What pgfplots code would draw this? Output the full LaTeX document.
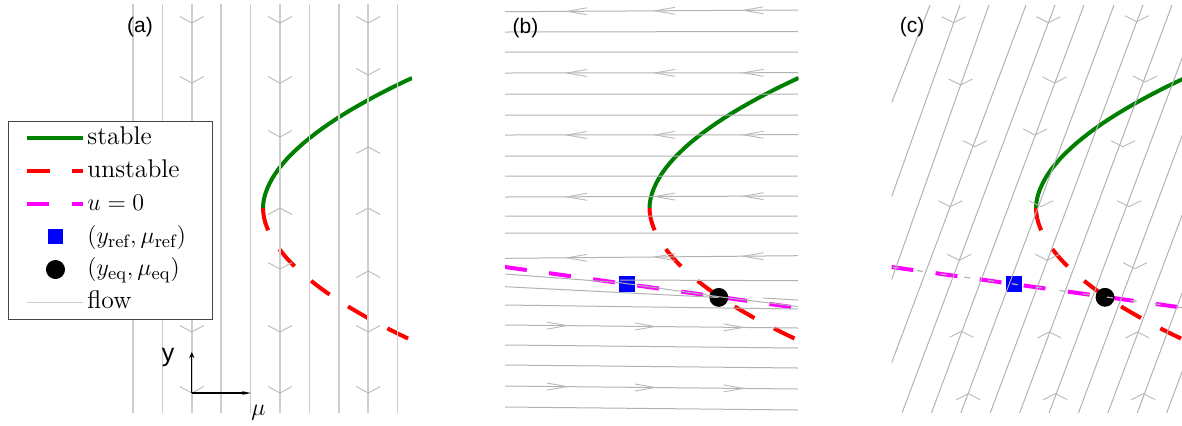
\documentclass[border=0pt]{standalone}
\usepackage{fontspec}
\setsansfont{Liberation Sans}
\usepackage{pgfplots}
\usepackage{pgfplotstable}
\pgfplotsset{compat=1.18}
\usetikzlibrary{arrows.meta}
\definecolor{stab}{RGB}{0,128,0}
\definecolor{unst}{RGB}{255,0,0}
\definecolor{uzero}{RGB}{255,0,255}
\definecolor{flowA}{RGB}{205,205,205}
\definecolor{flowB}{RGB}{178,178,178}
\definecolor{chev}{RGB}{185,185,185}
\definecolor{legframe}{RGB}{70,70,70}

% shared data, in panel coordinates (pixels of panel (a), y downwards)
\pgfplotstableread{
x y
263 208
263.3 203
264.2 198
265.6 193
267.5 188
269.8 183
272.5 178
275.7 173
279.3 168
283.4 163
287.8 158
292.7 153
298 148
303.6 143
309.7 138
316.1 133
322.9 128
330.1 123
337.7 118
345.7 113
354 108
362.8 103
371.8 98
381.3 93
391.1 88
401.3 83
412 78
}\stabletab
\pgfplotstableread{
x y
263 208
263.3 213
264.1 218
265.4 223
267.2 228
269.4 233
272 238
275 243
278.5 248
282.4 253
286.6 258
291.3 263
296.3 268
301.8 273
307.6 278
313.9 283
320.4 288
327.4 293
334.8 298
342.5 303
350.6 308
359.1 313
367.9 318
377.1 323
386.7 328
396.6 333
409 339
}\unstabletab

\tikzset{panellabel/.style={font=\fontsize{10.5}{12}\sffamily\selectfont}}
\pgfplotsset{
  panel/.style={
    scale only axis, width=146.75pt, height=205pt,
    xmin=118.5, xmax=412, ymin=4, ymax=414, y dir=reverse,
    hide axis, clip mode=individual, anchor=south west,
    unbounded coords=jump,
  },
  stablecurve/.style={color=stab, line width=2pt},
  unstablecurve/.style={color=unst, line width=2pt, dash pattern=on 11.5pt off 11pt},
  uzeroline/.style={color=uzero, line width=2pt, dash pattern=on 11pt off 11.25pt},
  flowa/.style={color=flowA, line width=0.8pt},
  flowb/.style={color=flowB, line width=0.5pt},
  chevron/.style={color=chev, line width=0.45pt},
  refmark/.style={only marks, mark=square*, mark size=3.75pt, color=blue},
  eqmark/.style={only marks, mark=*, mark size=4.5pt, color=black},
  lineleg/.style={legend image code/.code={\draw[##1] plot coordinates {(0pt,0pt) (28pt,0pt)};}},
  markleg/.style={legend image code/.code={\path[draw=none,fill=none] (0pt,0pt) -- (28pt,0pt); \draw[##1] plot coordinates {(14pt,0pt)};}},
}

\begin{document}
\begin{tikzpicture}
\useasboundingbox (0,0) rectangle (591pt,212.5pt);

% ---------------- panel (a)
\begin{axis}[panel, at={(59.25pt,5.5pt)},
  legend style={at={(axis cs:8,121)}, anchor=north west, draw=legframe,
    line width=0.5pt, fill=white, inner xsep=8.5pt, inner ysep=1pt,
    row sep=1.6pt, font=\fontsize{12.8}{15}\selectfont,
    nodes={inner sep=1pt, text height=9.6pt, text depth=3.2pt, text width=53pt}},
  legend cell align=left]
\addlegendimage{stablecurve, lineleg}
\addlegendentry{stable}
\addlegendimage{unstablecurve, lineleg}
\addlegendentry{unstable}
\addlegendimage{uzeroline, lineleg}
\addlegendentry{$u=0$}
\addlegendimage{only marks, mark=square*, mark size=3.6pt, color=blue, markleg}
\addlegendentry{$(y_{\mathrm{ref}},\mu_{\mathrm{ref}})$}
\addlegendimage{only marks, mark=*, mark size=4.5pt, color=black, markleg}
\addlegendentry{$(y_{\mathrm{eq}},\mu_{\mathrm{eq}})$}
\addlegendimage{color=flowA, line width=0.8pt, lineleg}
\addlegendentry{flow}

\addplot[stablecurve, forget plot] table {\stabletab};
\addplot[unstablecurve, forget plot] table {\unstabletab};
% flow lines
\addplot[flowa, forget plot] coordinates {
(133,4) (133,413) (nan,nan)
(162.4,4) (162.4,413) (nan,nan)
(191.8,4) (191.8,413) (nan,nan)
(221.2,4) (221.2,413) (nan,nan)
(250.6,4) (250.6,413) (nan,nan)
(280,4) (280,413) (nan,nan)
(309.4,4) (309.4,413) (nan,nan)
(338.8,4) (338.8,413) (nan,nan)
(368.2,4) (368.2,413) (nan,nan)
(397.6,4) (397.6,413)
};
\addplot[chevron, forget plot] coordinates {
(179.8,16.5) (191.8,23) (203.8,16.5) (nan,nan)
(179.8,76.5) (191.8,83) (203.8,76.5) (nan,nan)
(179.8,325.5) (191.8,332) (203.8,325.5) (nan,nan)
(179.8,386.5) (191.8,393) (203.8,386.5) (nan,nan)
(268,16.5) (280,23) (292,16.5) (nan,nan)
(268,76.5) (280,83) (292,76.5) (nan,nan)
(268,130.5) (280,137) (292,130.5) (nan,nan)
(268,214.5) (280,208) (292,214.5) (nan,nan)
(268,262.5) (280,269) (292,262.5) (nan,nan)
(268,325.5) (280,332) (292,325.5) (nan,nan)
(268,386.5) (280,393) (292,386.5) (nan,nan)
(356.2,16.5) (368.2,23) (380.2,16.5) (nan,nan)
(356.2,68.5) (368.2,75) (380.2,68.5) (nan,nan)
(356.2,153.5) (368.2,147) (380.2,153.5) (nan,nan)
(356.2,214.5) (368.2,208) (380.2,214.5) (nan,nan)
(356.2,277.5) (368.2,271) (380.2,277.5) (nan,nan)
(356.2,325.5) (368.2,332) (380.2,325.5) (nan,nan)
(356.2,386.5) (368.2,393) (380.2,386.5)
};
\draw[black, line width=0.6pt, -{Stealth[length=3pt,width=2.6pt]}] (axis cs:191.8,393) -- (axis cs:191.8,352);
\draw[black, line width=0.6pt, -{Stealth[length=4.5pt,width=1.8pt]}] (axis cs:191.8,393) -- (axis cs:251,393);
\node[font=\fontsize{12.5}{14}\sffamily\selectfont] at (axis cs:168,357) {y};
\node[font=\fontsize{13}{15}\selectfont] at (axis cs:258.5,413) {$\mu$};
\node[panellabel] at (axis cs:140,27) {(a)};
\end{axis}

% ---------------- panel (b)
\begin{axis}[panel, at={(252.5pt,5.5pt)}]
\addplot[stablecurve, forget plot] table {\stabletab};
\addplot[unstablecurve, forget plot] table {\unstabletab};
\addplot[uzeroline, forget plot] coordinates {(118.5,267) (412,308)};
\addplot[refmark, forget plot] coordinates {(240.8,284.2)};
\addplot[eqmark, forget plot] coordinates {(332.3,297.4)};
\addplot[flowb, forget plot] coordinates {
(118.5,11.7) (411.5,10) (nan,nan)
(118.5,32) (411.5,31.5) (nan,nan)
(118.5,52) (411.5,52) (nan,nan)
(118.5,73) (411.5,72.7) (nan,nan)
(118.5,94) (411.5,94) (nan,nan)
(118.5,115) (411.5,115) (nan,nan)
(118.5,135) (411.5,134.7) (nan,nan)
(118.5,156) (411.5,156) (nan,nan)
(118.5,176) (411.5,176) (nan,nan)
(118.5,197) (411.5,196) (nan,nan)
(118.5,216) (411.5,216) (nan,nan)
(118.5,233) (411.5,233) (nan,nan)
(118.5,258.3) (411.5,255.7) (nan,nan)
(118.5,274) (233.5,282.7) (332.5,296.7) (411.5,306.5) (nan,nan)
(233.5,280) (411.5,280.7) (nan,nan)
(118.5,286.7) (332,297.5) (nan,nan)
(376.5,298) (411.5,300) (nan,nan)
(118.5,305) (411.5,309) (nan,nan)
(118.5,325) (411.5,328) (nan,nan)
(118.5,345) (411.5,348) (nan,nan)
(118.5,365) (411.5,368) (nan,nan)
(118.5,386) (411.5,389) (nan,nan)
(118.5,407) (411.5,410)
};
\addplot[chevron, forget plot] coordinates {
(200.5,7.8) (180.5,11.3) (200.5,14.8) (nan,nan)
(288.5,7.3) (268.5,10.8) (288.5,14.3) (nan,nan)
(377,6.8) (357,10.3) (377,13.8) (nan,nan)
(200.5,69.5) (180.5,73) (200.5,76.5) (nan,nan)
(288.5,69.4) (268.5,72.9) (288.5,76.4) (nan,nan)
(377,69.3) (357,72.8) (377,76.3) (nan,nan)
(200.5,131.5) (180.5,135) (200.5,138.5) (nan,nan)
(288.5,131.4) (268.5,134.9) (288.5,138.4) (nan,nan)
(377,131.3) (357,134.8) (377,138.3) (nan,nan)
(200.5,193.3) (180.5,196.8) (200.5,200.3) (nan,nan)
(288.5,193) (268.5,196.5) (288.5,200) (nan,nan)
(377,192.7) (357,196.2) (377,199.7) (nan,nan)
(200.5,254.3) (180.5,257.8) (200.5,261.3) (nan,nan)
(288.5,253.5) (268.5,257) (288.5,260.5) (nan,nan)
(377,252.7) (357,256.2) (377,259.7) (nan,nan)
(160.5,322.1) (180.5,325.6) (160.5,329.1) (nan,nan)
(248.5,323) (268.5,326.5) (248.5,330) (nan,nan)
(337,323.9) (357,327.4) (337,330.9) (nan,nan)
(160.5,383.1) (180.5,386.6) (160.5,390.1) (nan,nan)
(248.5,384) (268.5,387.5) (248.5,391) (nan,nan)
(337,384.9) (357,388.4) (337,391.9)
};
\node[panellabel] at (axis cs:139,28) {(b)};
\end{axis}

% ---------------- panel (c)
\begin{axis}[panel, at={(445.75pt,5.5pt)}]
\addplot[stablecurve, forget plot] table {\stabletab};
\addplot[unstablecurve, forget plot] table {\unstabletab};
\addplot[uzeroline, forget plot] coordinates {(118.5,267) (412,308)};
\addplot[refmark, forget plot] coordinates {(240.8,284.2)};
\addplot[eqmark, forget plot] coordinates {(332,297.3)};
\addplot[flowb, forget plot] coordinates {
(157,5) (118.5,103) (nan,nan)
(187,5) (118.5,197) (nan,nan)
(216,5) (118.5,280) (nan,nan)
(253,5) (118.5,363) (nan,nan)
(282,5) (129,413) (nan,nan)
(311,5) (158.4,413) (nan,nan)
(341,5) (187.8,413) (nan,nan)
(370,5) (217.2,413) (nan,nan)
(399,5) (246.6,413) (nan,nan)
(429,5) (276,413) (nan,nan)
(458,5) (305.4,413) (nan,nan)
(488,5) (334.8,413) (nan,nan)
(517,5) (364.2,413) (nan,nan)
(547,5) (393.6,413)
};
\addplot[flowb, line width=0.6pt, dash pattern=on 3pt off 9pt, forget plot] coordinates {(120,267.2) (412,308)};
\addplot[chevron, forget plot] coordinates {
(168.7,16.7) (180.7,22.7) (192.7,16.7) (nan,nan)
(263.4,16.7) (275.4,22.7) (287.4,16.7) (nan,nan)
(351.7,15.7) (363.7,21.7) (375.7,15.7) (nan,nan)
(175.6,79) (187.6,85) (199.6,79) (nan,nan)
(269.7,77) (281.7,83) (293.7,77) (nan,nan)
(360,76) (372,82) (384,76) (nan,nan)
(190,140.7) (202,146.7) (214,140.7) (nan,nan)
(250.2,129) (262.2,135) (274.2,129) (nan,nan)
(338,140.7) (350,146.7) (362,140.7) (nan,nan)
(165.2,200.7) (177.2,206.7) (189.2,200.7) (nan,nan)
(256,200.7) (268,206.7) (280,200.7) (nan,nan)
(344,200.7) (356,206.7) (368,200.7) (nan,nan)
(174.3,254.3) (186.3,260.3) (198.3,254.3) (nan,nan)
(262.3,254.3) (274.3,260.3) (286.3,254.3) (nan,nan)
(350,262.7) (362,268.7) (374,262.7) (nan,nan)
(176.6,337.3) (188.6,331.3) (200.6,337.3) (nan,nan)
(264.4,338) (276.4,332) (288.4,338) (nan,nan)
(352.4,338) (364.4,332) (376.4,338) (nan,nan)
(183.2,399.7) (195.2,393.7) (207.2,399.7) (nan,nan)
(270.2,399.7) (282.2,393.7) (294.2,399.7) (nan,nan)
(358.2,399.7) (370.2,393.7) (382.2,399.7)
};
\node[panellabel] at (axis cs:139,27) {(c)};
\end{axis}
\end{tikzpicture}
\end{document}
